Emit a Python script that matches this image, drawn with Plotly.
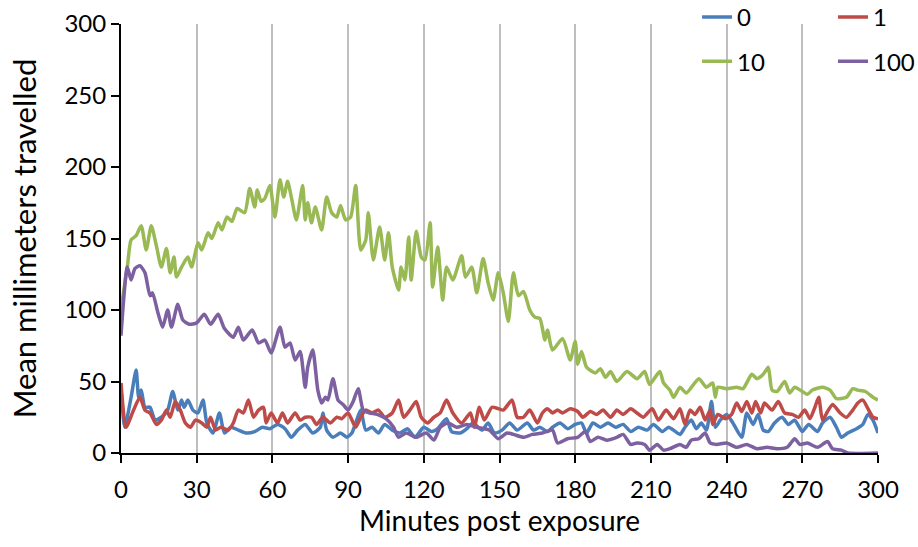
import plotly.graph_objects as go

# minutes post exposure / mean mm travelled
t_0 = [0, 1.5, 4, 6, 7, 8, 9.5, 11.5, 13.5, 16, 18.5, 20.5, 22.5, 24, 25, 26.5, 28.5, 30.5, 32.5, 34, 36.5, 39, 41,
       43.5, 46.5, 49.5, 53, 56, 59, 62, 65, 67.5, 70, 73, 76, 79, 80, 81.5, 84, 87, 89.5, 91.5, 93, 95, 97, 99.5,
       102, 104.5, 107.5, 110.5, 113.5, 116.5, 120, 123, 125.5, 129, 131, 134.5, 137, 139.5, 143, 145.5, 148, 151,
       154, 157, 161, 163.5, 166, 169, 171, 174, 177, 180, 182.5, 184.5, 187, 190, 193, 196, 199, 202, 205, 208.5,
       211, 214.5, 217, 219, 221.5, 223.5, 226, 228, 230, 232, 234, 235.5, 237.5, 240, 242.5, 246, 248, 250.5,
       252.5, 254.5, 256.5, 259, 262, 264.5, 267, 270, 272.5, 276, 278, 281, 283.5, 285.5, 288, 291.5, 294, 296,
       298, 300]
v_0 = [45, 18, 39, 58, 39, 44, 32, 32, 23, 25, 30, 43, 30, 37, 32, 37, 30, 28, 37, 21, 14, 28, 14,
       18, 16, 14, 15, 18, 17, 20, 17, 11, 16, 20, 14, 18, 28, 16, 11, 14, 11, 14, 21, 30, 16, 18,
       14, 20, 16, 14, 17, 11, 18, 15, 17, 24, 15, 14, 17, 21, 16, 21, 14, 16,
       21, 16, 21, 16, 18, 15, 18, 21, 17, 20, 21, 14, 21, 18, 21, 18, 20, 15, 18, 16,
       20, 15, 18, 16, 13, 18, 23, 17, 21, 16, 36, 18, 23, 27, 21, 11, 28, 20,
       27, 16, 15, 21, 25, 20, 23, 15, 20, 15, 21, 25, 18, 11, 14, 17, 20, 27,
       23, 14]

t_1 = [0, 2, 5, 7.5, 9.5, 11.5, 14, 16, 18, 19.5, 21.5, 23.5, 25.5, 27.5, 29.5, 32, 34, 35.5, 37.5, 39.5, 42.5,
       44.5, 46.5, 48.5, 50.5, 52.5, 54.5, 56.5, 57.5, 59.5, 62, 64, 66, 69, 71, 73, 75.5, 77.5, 80, 83, 85.5,
       87.5, 90, 93, 95, 97, 99.5, 102, 104.5, 107.5, 110, 112, 114.5, 117, 119, 121.5, 124, 126.5, 129, 131.5,
       135, 138.5, 140, 142, 144, 147, 149.5, 151.5, 155, 157, 159.5, 162, 165, 167, 169, 171, 173, 175, 178,
       181, 183, 186, 188.5, 191, 194, 196.5, 199, 202, 204.5, 207, 210.5, 213, 216, 219, 221.5, 223.5, 225.5,
       227.5, 229.5, 231.5, 233.5, 234.5, 236.5, 239.5, 242, 244, 246, 248, 250, 251.5, 253.5, 255, 258, 260.5,
       263, 266, 268.5, 271, 273, 275, 276.5, 278, 280, 282, 285, 287.5, 290, 292, 294, 296, 298, 300]
v_1 = [49, 18, 30, 39, 30, 28, 20, 23, 30, 25, 36, 30, 21, 18, 23, 21, 18, 25, 16, 18, 16,
       21, 30, 28, 37, 25, 30, 32, 21, 28, 21, 28, 21, 28, 23, 25, 25, 20, 25, 21, 25,
       24, 28, 18, 25, 30, 28, 30, 25, 28, 37, 25, 30, 36, 25, 21, 25, 28, 37, 28,
       21, 28, 18, 32, 23, 32, 31, 30, 37, 25, 25, 30, 21, 28, 31, 28, 30, 28, 31,
       29, 25, 29, 27, 30, 25, 30, 27, 31, 28, 25, 31, 23, 30, 24, 31, 20, 30,
       27, 32, 23, 30, 20, 27, 24, 27, 35, 29, 36, 28, 36, 28, 35, 30, 36,
       28, 27, 25, 30, 24, 32, 39, 23, 29, 34, 28, 25, 30, 35, 37, 31, 25, 24]

t_10 = [0, 2.5, 4, 6, 8, 10, 12, 14, 16, 18, 19.5, 21, 22, 24, 26.5, 28, 30.5, 32, 34.5, 36, 38.5, 40, 42, 44,
        46, 49, 51, 53, 54, 55.5, 57, 59, 61, 63, 64.5, 66, 67.5, 69.5, 72, 73, 74, 75.5, 77, 79.5, 81.5, 83.5,
        85.5, 87, 89, 91, 93, 95, 97, 98, 100, 102.5, 104.5, 106, 107.5, 110, 111, 112.5, 114, 115, 117, 119,
        120.5, 122.5, 123.5, 125.5, 127.5, 129, 131.5, 135, 136.5, 139, 141, 143.5, 145.5, 147.5, 149.5, 151.5,
        153.5, 155.5, 157.5, 159.5, 162, 164, 166, 168, 169, 171, 175, 178, 180, 181, 182.5, 184.5, 188, 190,
        192, 194, 196.5, 200.5, 204.5, 207.5, 209.5, 213.5, 215, 217.5, 219, 221.5, 224, 229, 232, 234.5, 235.5,
        236.5, 240, 244, 246.5, 250, 252, 254.5, 256.5, 258, 260, 263, 265, 267, 270, 272, 274, 278, 281, 283.5,
        287.5, 290, 292, 295, 298, 300]
v_10 = [101, 130, 149, 152, 159, 142, 159, 145, 130, 143, 126, 137, 123, 130, 137, 130, 147, 142, 154, 150, 161, 156, 165, 162,
        171, 168, 185, 172, 184, 176, 178, 187, 165, 191, 179, 190, 179, 163, 187, 163, 175, 161, 172, 156, 179, 168,
        165, 173, 163, 165, 187, 142, 149, 168, 135, 158, 135, 154, 130, 114, 130, 121, 151, 121, 155, 137,
        135, 161, 116, 144, 107, 130, 121, 138, 123, 130, 112, 136, 119, 107, 126, 112,
        92, 126, 110, 113, 100, 95, 94, 79, 86, 72, 80, 65, 78, 62, 71, 60, 56, 59,
        53, 57, 50, 57, 52, 57, 48, 57, 49, 44, 39, 46, 42, 52, 46, 49, 39,
        46, 45, 46, 45, 55, 52, 55, 60, 44, 43, 50, 42, 46, 43, 41, 44, 46, 44, 38,
        39, 45, 44, 43, 39, 37]

t_100 = [0, 2.5, 4, 5.5, 7.5, 9.5, 11.5, 12.5, 14.5, 16.5, 18.5, 20, 22.5, 24.5, 27, 30, 33, 35.5, 38.5, 41, 44.5,
         46.5, 48.5, 52, 54.5, 57, 59.5, 63, 65, 67, 69, 71, 73, 74, 76, 78, 79.5, 81, 82, 84, 86, 88, 90, 92, 94,
         96, 98.5, 101.5, 105, 108, 110, 113, 117, 121, 124, 126.5, 129.5, 133, 137, 141, 146, 149.5, 153, 155.5,
         159.5, 163, 167, 171, 173, 177, 181, 184, 186, 189, 192.5, 196.5, 199, 202, 204.5, 207.5, 209.5, 212.5,
         215, 217.5, 221.5, 224, 226, 229, 231.5, 233.5, 236, 240, 244, 248, 252, 256, 260, 264, 267, 269, 272,
         276, 280, 282, 285.5, 288, 300]
v_100 = [82, 130, 121, 129, 131, 126, 110, 112, 99, 88, 100, 88, 104, 93, 90, 91, 97, 90, 97, 87, 81,
         88, 79, 86, 77, 79, 70, 88, 74, 77, 65, 71, 46, 60, 72, 44, 35, 39, 37, 52, 37, 34, 30, 36, 45,
         30, 28, 27, 24, 18, 11, 14, 11, 14, 9, 18, 21, 18, 20, 18, 16, 10, 14, 13,
         11, 13, 14, 16, 7, 10, 11, 15, 8, 11, 9, 11, 13, 6, 7, 6, 2, 6,
         2, 3, 6, 4, 9, 10, 14, 7, 6, 7, 4, 6, 3, 4, 3, 4, 10, 6, 7,
         4, 8, 3, 2, 0, 0]

names = ["0", "1", "10", "100"]
colors = ["#4A7EBB", "#BE4B48", "#98B954", "#7D60A0"]
series = [(t_0, v_0), (t_1, v_1), (t_10, v_10), (t_100, v_100)]
legend_of = ["legend", "legend2", "legend", "legend2"]

FONT = "Lato"

fig = go.Figure()
for name, col, (tx, vy), lg in zip(names, colors, series, legend_of):
    fig.add_trace(go.Scatter(x=tx, y=vy, mode="lines", name=name, legend=lg, legendgroup=name,
                             line=dict(color=col, width=3.5, shape="spline", smoothing=0.6)))

fig.update_layout(
    width=918, height=547,
    margin=dict(l=121, r=40, t=24, b=94, autoexpand=False),
    plot_bgcolor="white", paper_bgcolor="white",
    font=dict(family=FONT, size=24, color="black"),
    legend=dict(x=0.761, y=1.068, xanchor="left", yanchor="top",
                bgcolor="rgba(0,0,0,0)", tracegroupgap=10, font=dict(size=24)),
    legend2=dict(x=0.9406, y=1.068, xanchor="left", yanchor="top",
                 bgcolor="rgba(0,0,0,0)", tracegroupgap=10, font=dict(size=24)),
)

fig.update_xaxes(range=[0, 300], tickvals=list(range(0, 301, 30)), showgrid=True, gridcolor="#BEBEBE",
                 gridwidth=2, showline=True, linecolor="black", linewidth=2, ticks="outside", ticklen=8,
                 tickwidth=2, tickcolor="black", zeroline=False, tickfont=dict(size=24), ticklabelstandoff=6,
                 title=dict(text="Minutes post exposure", standoff=10, font=dict(size=28)))
fig.update_yaxes(range=[0, 300], tickvals=list(range(0, 301, 50)), showgrid=False, showline=True,
                 linecolor="black", linewidth=2, ticks="outside", ticklen=8, tickwidth=2, tickcolor="black",
                 zeroline=False, tickfont=dict(size=24),
                 title=dict(text="Mean millimeters travelled", standoff=19, font=dict(size=31)))

# drop the default page margin so the figure fills the window exactly
fig.write_html("out.html", config={"displayModeBar": False},
               post_script="document.body.style.margin='0';")
